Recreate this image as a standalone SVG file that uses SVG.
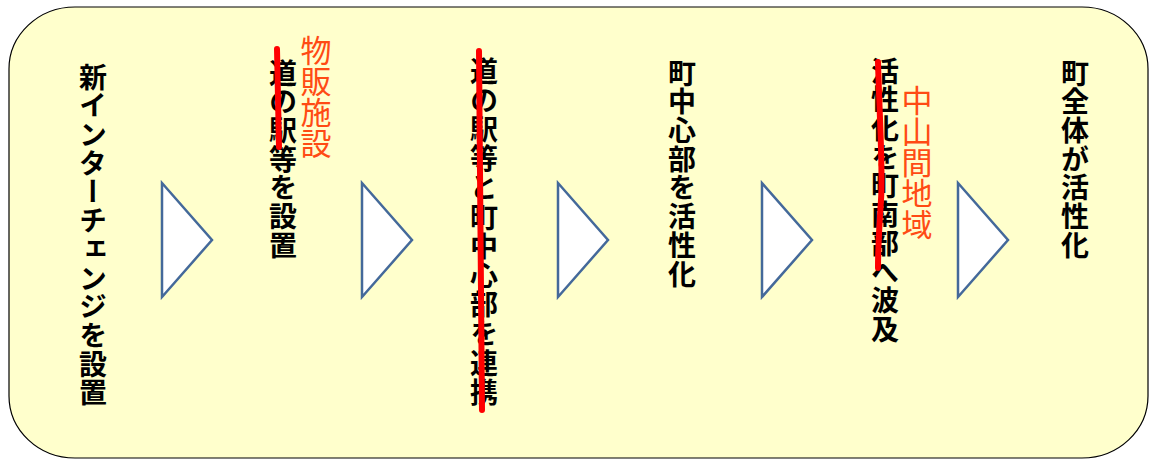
<svg xmlns="http://www.w3.org/2000/svg" width="1151" height="460" viewBox="0 0 1151 460">
<style>
.v{writing-mode:vertical-rl;text-orientation:upright;font-family:"Noto Sans CJK JP","Noto Sans CJK SC",sans-serif;}
.b{font-size:28px;font-weight:bold;fill:#000;letter-spacing:0.7px;}
.w{letter-spacing:1.2px;}
.r{font-size:31px;font-weight:normal;fill:#FF4B14;}
.tri{fill:#fff;stroke:#44699A;stroke-width:2.5;stroke-linejoin:miter;}
.strike{fill:none;stroke:#F00;stroke-width:6;stroke-linecap:round;}
</style>
<rect id="frame" x="9" y="7" width="1139" height="451" rx="66" ry="62" fill="#FFFFCC" stroke="#000" stroke-width="1.2"/>
<g id="n1"><text class="v b" x="93" y="63">新インターチェンジを設置</text></g>
<g id="n2"><text class="v b" x="283" y="59">道の駅等を設置</text><text class="v r" x="316" y="35">物販施設</text></g>
<g id="n3"><text class="v b w" x="484" y="57">道の駅等と町中心部を連携</text></g>
<g id="n4"><text class="v b" x="682" y="59">町中心部を活性化</text></g>
<g id="n5"><text class="v b" x="885" y="57">活性化を町南部へ波及</text><text class="v r" x="917" y="85">中山間地域</text></g>
<g id="n6"><text class="v b" x="1075" y="59">町全体が活性化</text></g>
<g id="connectors">
<polygon class="tri" points="162,183 212,240 162,297"/>
<polygon class="tri" points="362,183 412,240 362,297"/>
<polygon class="tri" points="558,183 608,240 558,297"/>
<polygon class="tri" points="762,183 812,240 762,297"/>
<polygon class="tri" points="958,183 1008,240 958,297"/>
</g>
<g id="strikes">
<line class="strike" x1="277" y1="49" x2="279" y2="147"/>
<line class="strike" x1="479" y1="51" x2="482" y2="410"/>
<path class="strike" d="M878,62 C880,130 883,170 881,200 C879,230 878,250 878,268"/>
</g>
</svg>
